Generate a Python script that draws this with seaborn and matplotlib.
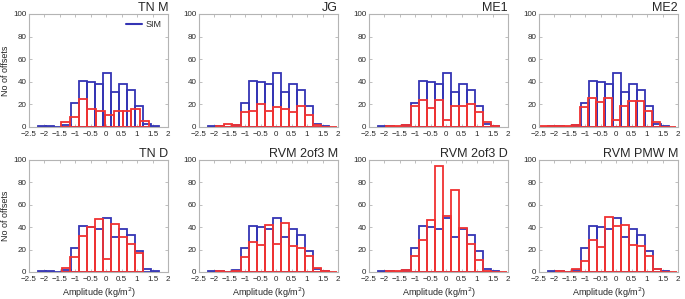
import numpy as np
import pandas as pd
import matplotlib
matplotlib.use("Agg")
import matplotlib.pyplot as plt
from matplotlib.lines import Line2D
import seaborn as sns

# SIM (reference) histogram, same in every panel
SIM_RANGE = (-2.2, 1.72)
SIM_COUNTS = [1, 1, 0, 2, 21, 41, 40, 38, 48, 31, 38, 33, 19, 3, 1]

# method histograms: (bin range, counts)
TITLES = ["TN M", "JG", "ME1", "ME2", "TN D", "RVM 2of3 M", "RVM 2of3 D", "RVM PMW M"]
TN_M_RANGE, TN_M = (-1.46, 1.38), [4, 9, 25, 16, 14, 11, 14, 14, 16, 5]
JG_RANGE, JG = (-1.94, 1.98), [1, 3, 2, 13, 14, 20, 14, 18, 16, 13, 19, 11, 2, 0, 0]
ME1_RANGE, ME1 = (-1.94, 1.72), [1, 1, 2, 19, 24, 17, 24, 6, 19, 19, 20, 13, 4, 1]
ME2_RANGE, ME2 = (-2.476, 1.944), [1, 1, 1, 1, 2, 18, 26, 22, 26, 6, 19, 23, 23, 14, 4, 0, 0]
TN_D_RANGE, TN_D = (-1.42, 1.20), [4, 13, 32, 40, 47, 12, 43, 31, 25, 17]
RVM_M_RANGE, RVM_M = (-1.94, 1.98), [1, 0, 1, 13, 27, 24, 42, 25, 44, 23, 21, 14, 4, 1, 0]
RVM_D_RANGE, RVM_D = (-1.94, 1.98), [1, 1, 2, 14, 29, 46, 95, 50, 73, 39, 25, 11, 1, 0, 0]
PMW_M_RANGE, PMW_M = (-1.94, 1.98), [1, 0, 3, 10, 29, 22, 49, 41, 42, 24, 23, 14, 3, 0, 0]

METHODS = [(TN_M_RANGE, TN_M), (JG_RANGE, JG), (ME1_RANGE, ME1), (ME2_RANGE, ME2),
           (TN_D_RANGE, TN_D), (RVM_M_RANGE, RVM_M), (RVM_D_RANGE, RVM_D), (PMW_M_RANGE, PMW_M)]

XTICKS = [-2.5, -2, -1.5, -1, -0.5, 0, 0.5, 1, 1.5, 2]
YTICKS = [0, 20, 40, 60, 80, 100]

BLUE, RED, GREY = "#3434b4", "#f03232", "#b4b4b4"

sns.set_style("white")
plt.rcParams["font.family"] = ["Liberation Sans", "DejaVu Sans"]


def hist(ax, rng, counts, color):
    edges = np.linspace(rng[0], rng[1], len(counts) + 1)
    df = pd.DataFrame({"x": (edges[:-1] + edges[1:]) / 2, "n": counts})
    sns.histplot(data=df, x="x", weights="n", bins=edges.tolist(), element="bars", fill=False,
                 color=color, linewidth=1.3, ax=ax)


fig = plt.figure(figsize=(6.85, 2.99), dpi=100)
W, H = 685, 299
cols = [29, 199, 369, 539]
rows = [(14, 127), (160, 272)]

for i, (title, (rng, counts)) in enumerate(zip(TITLES, METHODS)):
    r, c = divmod(i, 4)
    top, bot = rows[r]
    ax = fig.add_axes([cols[c] / W, 1 - bot / H, 139 / W, (bot - top) / H])
    hist(ax, SIM_RANGE, SIM_COUNTS, BLUE)
    hist(ax, rng, counts, RED)
    for p in ax.patches:
        p.set_clip_on(False)
    ax.set_xlim(-2.5, 2); ax.set_ylim(0, 100)
    ax.set_xticks(XTICKS)
    ax.set_xticklabels([f"{v:g}".replace("-", "\u2212") for v in XTICKS])
    ax.set_yticks(YTICKS)
    ax.tick_params(direction="in", length=2, width=0.6, color=GREY, labelsize=5.8,
                   top=True, right=True, bottom=True, left=True)
    ax.tick_params(axis="x", pad=3)
    ax.tick_params(axis="y", pad=2)
    for s in ax.spines.values():
        s.set_color(GREY); s.set_linewidth(0.8)
    ax.set_ylabel("No of offsets" if c == 0 else "", fontsize=6.5, labelpad=2)
    ax.set_xlabel("Amplitude (kg/m$^2$)" if r == 1 else "", fontsize=6.5, labelpad=2)
    ax.set_title(title, loc="right", fontsize=9, pad=2)
    if i == 0:
        ax.legend(handles=[Line2D([], [], color=BLUE, lw=1.5, label="SIM")], loc="upper right",
                  frameon=False, fontsize=6.5, handlelength=1.8, borderaxespad=0.3, handletextpad=0.4)

fig.savefig("out.png", dpi=100)
